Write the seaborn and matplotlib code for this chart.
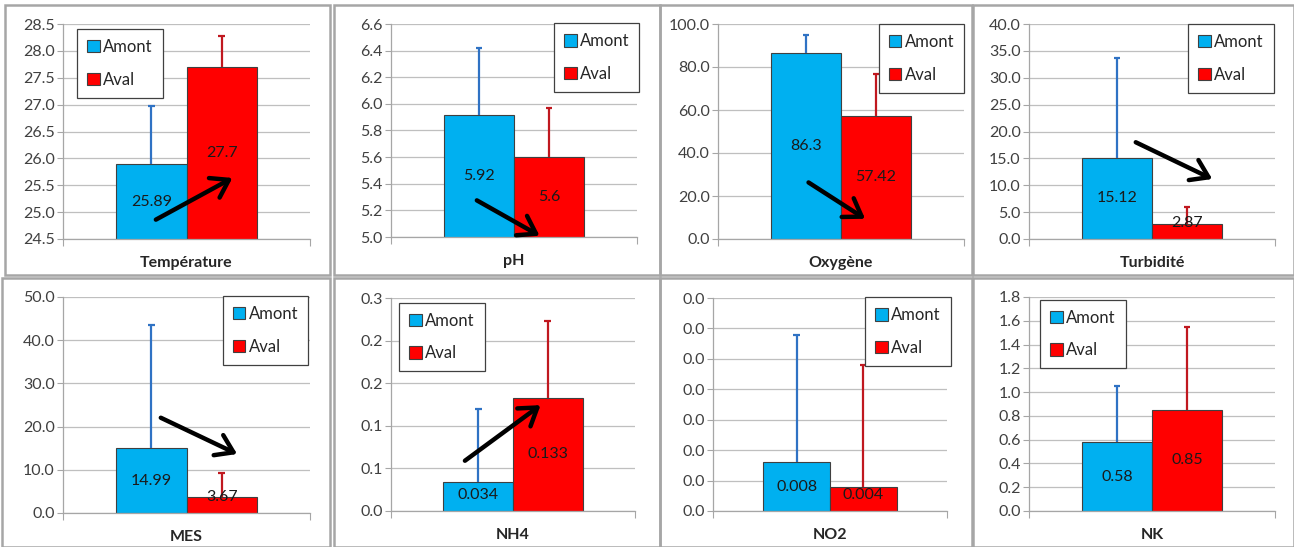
#!/usr/bin/env python3
"""
Amont / Aval : comparaison des paramètres physico-chimiques
"""

import math
import pandas as pd
import matplotlib
matplotlib.use('Agg')
import matplotlib.pyplot as plt
import seaborn as sns
from matplotlib.patches import Patch, Rectangle
from matplotlib.ticker import FuncFormatter

# données
params = ['Température', 'pH', 'Oxygène', 'Turbidité', 'MES', 'NH4', 'NO2', 'NK']
sites = ['Amont', 'Aval']
amont = [25.89, 5.92, 86.3, 15.12, 14.99, 0.034, 0.008, 0.58]
aval = [27.7, 5.6, 57.42, 2.87, 3.67, 0.133, 0.004, 0.85]
amont_err = [1.08, 0.50, 8.7, 18.6, 28.5, 0.086, 0.021, 0.47]
aval_err = [0.58, 0.37, 19.1, 3.0, 5.5, 0.090, 0.020, 0.70]
y_min = [24.5, 5.0, 0, 0, 0, 0, 0, 0]
y_max = [28.5, 6.6, 100, 40, 50, 0.25, 0.035, 1.8]
y_step = [0.5, 0.2, 20, 5, 10, 0.05, 0.005, 0.2]

# style
sns.set_style('white')
plt.rcParams['font.family'] = ['Lato', 'DejaVu Sans']
colors = {'Amont': '#00B0F0', 'Aval': '#FF0000'}
err_colors = ['#2F72C4', '#C0181F']

W, H = 1294, 547
# zones de tracé (pixels) : gauche, haut, droite, bas
plot_boxes = [(63, 24, 310, 239), (391, 24, 637, 237), (718, 24, 964, 239), (1029, 24, 1275, 239),
              (63, 297, 310, 513), (391, 298, 635, 511), (713, 298, 947, 511), (1029, 297, 1275, 511)]
frames = [(5, 5, 330, 275), (334, 5, 660, 275), (660, 5, 972, 275), (973, 5, 1294, 275),
          (2, 278, 330, 547), (334, 278, 660, 547), (660, 278, 972, 547), (973, 278, 1294, 547)]
legend_pos = [('upper left', (0.058, 0.977)), ('upper right', (1.01, 1.003)),
              ('upper right', (1.0, 1.0)), ('upper right', (0.995, 1.0)),
              ('upper right', (0.993, 1.005)), ('upper left', (0.034, 0.978)),
              ('upper right', (1.016, 1.003)), ('upper left', (0.046, 0.988))]
arrows = [((0.376, 0.090), (0.686, 0.284)), ((0.349, 0.172), (0.604, 0.006)),
          ((0.368, 0.263), (0.598, 0.094)), ((0.434, 0.450), (0.745, 0.279)),
          ((0.396, 0.441), (0.705, 0.273)), ((0.303, 0.236), (0.613, 0.497)),
          None, None]


def excel_round(v, pos=None):
    """arrondi à 1 décimale façon Excel (demi vers le haut)"""
    return f"{math.floor(v * 10 + 0.5 + 1e-9) / 10:.1f}"


fig = plt.figure(figsize=(W / 100, H / 100), dpi=100)

# cadres des captures
for (l, t, r, b) in frames:
    fig.patches.append(Rectangle((l / W, 1 - b / H), (r - l) / W, (b - t) / H,
                                 transform=fig.transFigure, fill=False,
                                 edgecolor='#A6A6A6', linewidth=1.8))

for i, name in enumerate(params):
    l, t, r, b = plot_boxes[i]
    ax = fig.add_axes([l / W, 1 - b / H, (r - l) / W, (b - t) / H])

    df = pd.DataFrame({'param': [name, name], 'site': sites, 'value': [amont[i], aval[i]]})
    sns.barplot(data=df, x='param', y='value', hue='site', hue_order=sites,
                palette=colors, saturation=1, width=0.57, edgecolor='#404040', linewidth=0.8,
                errorbar=None, legend=False, ax=ax, zorder=2)

    lo, hi = y_min[i], y_max[i]
    errs = [amont_err[i], aval_err[i]]
    for k, cont in enumerate(ax.containers):
        for bar in cont:
            x = bar.get_x() + bar.get_width() / 2
            v = bar.get_height()
            # barre d'erreur (plus seulement)
            ax.vlines(x, v, v + errs[k], color=err_colors[k], linewidth=1.6, zorder=3)
            ax.hlines(v + errs[k], x - 0.014, x + 0.014, color=err_colors[k], linewidth=1.6, zorder=3)
            # étiquette au centre
            y_lab = max((lo + v) / 2, lo + 0.075 * (hi - lo))
            ax.text(x, y_lab, f"{v:g}", ha='center', va='center', fontsize=11.5,
                    color='#1a1a1a', zorder=4)

    n = int(round((hi - lo) / y_step[i]))
    ax.set_ylim(lo, hi)
    ax.set_yticks([lo + j * y_step[i] for j in range(n + 1)])
    ax.yaxis.set_major_formatter(FuncFormatter(excel_round))
    ax.set_xlim(-0.5, 0.5)
    ax.set_xticks([-0.5, 0.5])
    ax.set_xticklabels(['', ''])
    ax.set_xlabel(name, fontsize=11.5, fontweight='bold', labelpad=4)
    ax.set_ylabel('')

    ax.set_axisbelow(True)
    ax.yaxis.grid(True, color='#BFBFBF', linewidth=0.9)
    ax.xaxis.grid(False)
    for s in ['top', 'right']:
        ax.spines[s].set_visible(False)
    for s in ['left', 'bottom']:
        ax.spines[s].set_color('#A6A6A6')
        ax.spines[s].set_linewidth(0.9)
    ax.tick_params(axis='y', left=True, length=4, color='#A6A6A6', labelsize=11.5,
                   labelcolor='#404040', pad=2)
    ax.tick_params(axis='x', bottom=True, length=5, color='#A6A6A6')

    # légende
    handles = [Patch(facecolor=colors[s], edgecolor='#404040', linewidth=0.8) for s in sites]
    loc, anchor = legend_pos[i]
    leg = ax.legend(handles, sites, loc=loc, bbox_to_anchor=anchor, borderaxespad=0,
                    fancybox=False, framealpha=1, edgecolor='#404040', fontsize=12,
                    handlelength=0.75, handleheight=0.75, handletextpad=0.2,
                    labelspacing=1.0, borderpad=0.6)
    leg.get_frame().set_linewidth(0.9)
    leg.set_zorder(5)

    # flèche de tendance
    if arrows[i] is not None:
        start, end = arrows[i]
        ax.annotate('', xy=end, xytext=start, xycoords='axes fraction',
                    textcoords='axes fraction',
                    arrowprops=dict(arrowstyle='->,head_length=0.6,head_width=0.4',
                                    color='black', lw=3.2, mutation_scale=20,
                                    shrinkA=0, shrinkB=0),
                    zorder=6)

plt.savefig('out.png', dpi=100)
